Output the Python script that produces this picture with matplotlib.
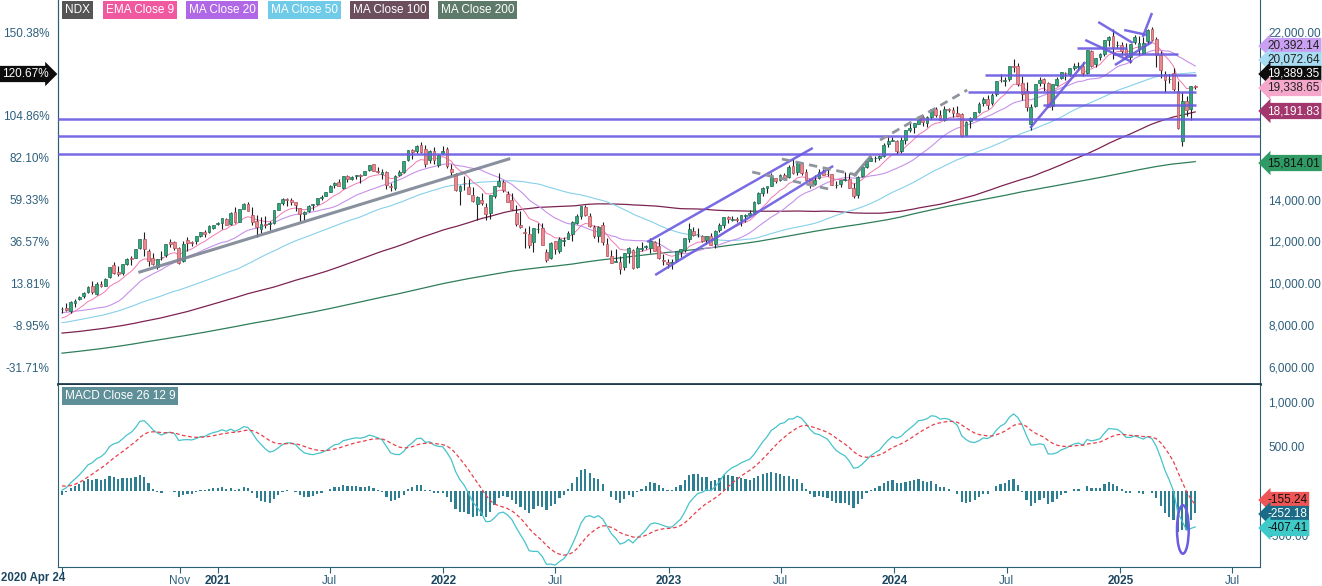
import numpy as np
import pandas as pd
import matplotlib
matplotlib.use('Agg')
import matplotlib.pyplot as plt
import matplotlib.dates as mdates
from matplotlib.patches import Ellipse

plt.rcParams['font.family'] = ['Liberation Sans', 'DejaVu Sans']

# weekly closes before the visible window (needed for MA200 / MACD warm-up), Jun 2016 .. Apr 17 2020
warmup_close = [
    4310, 4417, 4520, 4590, 4620, 4730, 4780, 4800, 4810, 4780, 4810, 4710, 4800, 4880, 4875, 4840,
    4820, 4850, 4800, 4660, 4750, 4800, 4840, 4720, 4800, 4860, 4920, 4864,
    # 2017
    4990, 5010, 5020, 5120, 5140, 5210, 5280, 5300, 5340, 5370, 5390, 5370, 5440, 5400, 5350, 5420,
    5580, 5630, 5690, 5650, 5790, 5850, 5700, 5690, 5770, 5650, 5690, 5850, 5920, 5880, 5920, 5810,
    5780, 5820, 5960, 5930, 6000, 5980, 5980, 6050, 6080, 6070, 6200, 6260, 6300, 6320, 6390, 6300,
    6350, 6440, 6450, 6400,
    # 2018
    6650, 6750, 6830, 7020, 6760, 6440, 6780, 6850, 6910, 7130, 7060, 6590, 6580, 6490, 6650, 6670,
    6630, 6760, 6930, 6860, 6930, 7050, 7120, 7210, 7140, 7040, 7130, 7330, 7330, 7250, 7370, 7380,
    7340, 7460, 7640, 7450, 7530, 7480, 7630, 7360, 7160, 7040, 6740, 6950, 6930, 6790, 6480, 6950,
    6630, 6580, 6000, 6190,
    # 2019
    6400, 6580, 6760, 6770, 6860, 6830, 7010, 7090, 7150, 6940, 7310, 7320, 7380, 7530, 7650, 7670,
    7850, 7850, 7610, 7520, 7320, 7130, 7450, 7520, 7700, 7670, 7820, 7940, 7830, 7990, 7620, 7620,
    7570, 7390, 7660, 7780, 7830, 7760, 7680, 7760, 7810, 7830, 7980, 8160, 8230, 8320, 8290, 8400,
    8400, 8500, 8640, 8770,
    # 2020
    8790, 8970, 9170, 9110, 8990, 9400, 9620, 9450, 8460, 8530, 7870, 6990, 7500, 7530, 8150, 8830,
]

# NDX weekly candles, 2020 Apr 24 .. 2025 Apr 28 (last one partial)
opens = [
    8770, 8830, 8660, 9080, 9250, 9400, 9560, 9860, 9500, 9970, 9880, 10290, 10880, 10560, 10500, 10920,
    11180, 11230, 11700, 12120, 11550, 11230, 10800, 11250, 11330, 11970, 11950, 11680, 11050, 12090,
    11970, 12030, 12270, 12470, 12450, 12660, 12840,
    12900, 13050, 12840, 13400, 12950, 13550, 13800, 13240, 12960, 12610, 12850, 12850, 12870, 13510,
    13840, 14020, 13990, 13880, 13580, 13300, 13440, 13720, 13780, 14070, 14160, 14380, 14680, 14830,
    14560, 15120, 15000, 15100, 15160, 15170, 15390, 15680, 15380, 15200, 15320, 14660, 14560, 15150,
    15330, 15870, 16360, 16300, 16600, 16400, 15870, 16300, 15670, 16200,
    16400, 15480, 15240, 14400, 14800, 14620, 14230, 13800, 14000, 13650, 13360, 14160, 14660, 14840,
    14260, 13990, 13360, 12800, 12450, 12370, 11950, 12590, 12640, 11470, 11200, 12010, 11540, 12030,
    12110, 12330, 12900, 13190, 13650, 13230, 12670, 12260, 12770, 11870, 11300, 11020, 11000, 10800,
    11440, 11600, 10760, 11650, 11730, 11700, 11950, 11760, 11130, 11000,
    10990, 11090, 11490, 11600, 12120, 12500, 12350, 12250, 12050, 12270, 11880, 12530, 12770, 13180,
    13000, 13090, 13000, 13220, 13270, 13350, 13850, 14290, 14530, 14660, 15020, 14930, 15150, 15080,
    15600, 15300, 15760, 15300, 14970, 14730, 15010, 15350, 15220, 15200, 14690, 14750, 14940, 15000,
    14550, 14210, 15100, 15530, 15850, 15980, 15970, 16080, 16630, 16780,
    16800, 16310, 16820, 17330, 17450, 17630, 17960, 17660, 17960, 18300, 18050, 17790, 18330, 18270,
    18120, 18080, 17100, 17760, 17900, 18190, 18590, 18820, 18590, 19040, 19710, 19660, 19740, 20400,
    20390, 19560, 19160, 17600, 18450, 19570, 19760, 19560, 18470, 19450, 19780, 20050, 20000, 20280,
    20350, 20400, 20050, 21100, 20480, 20800, 20930, 21600, 21820, 21360,
    21360, 21200, 20800, 21500, 21200, 21000, 21560, 22150, 21650, 20920, 20000, 19750, 20050, 19200,
    16800, 18700, 18300, 19430,
]
highs = [
    8850, 9040, 9140, 9270, 9390, 9560, 9850, 10090, 10060, 10120, 10260, 10780, 11000, 10820, 10930,
    11230, 11280, 11640, 12110, 12440, 11650, 11440, 11180, 11540, 11890, 12130, 12000, 11730, 12000,
    12230, 12030, 12270, 12470, 12560, 12760, 12800, 12910,
    13120, 13130, 13400, 13620, 13530, 13810, 13870, 13620, 13270, 13170, 13220, 12990, 13490, 13850,
    14050, 14070, 14060, 13900, 13600, 13460, 13730, 13800, 14080, 14200, 14370, 14670, 14840, 14970,
    15130, 15160, 15140, 15180, 15240, 15380, 15660, 15700, 15560, 15440, 15340, 14770, 15160, 15420,
    15860, 16370, 16400, 16600, 16760, 16600, 16350, 16490, 16180, 16570,
    16530, 15700, 15270, 14710, 15130, 14980, 14590, 14150, 14330, 13840, 14230, 14650, 15260, 14950,
    14390, 14300, 13750, 13440, 12630, 12740, 12650, 12900, 12890, 11640, 11950, 12040, 12190, 12200,
    12520, 12990, 13310, 13700, 13720, 13370, 12770, 12720, 12950, 12170, 11600, 11640, 11280, 11460,
    11720, 11650, 11760, 11970, 11820, 12140, 12030, 12160, 11380, 11140,
    11150, 11560, 11650, 12170, 12880, 12700, 12640, 12290, 12280, 12420, 12560, 12860, 13180, 13210,
    13200, 13150, 13270, 13310, 13480, 13930, 14350, 14580, 14620, 15280, 15050, 15200, 15260, 15640,
    15930, 15780, 15810, 15440, 15000, 15160, 15460, 15460, 15520, 15220, 14900, 14940, 15300, 15290,
    14770, 15140, 15540, 15850, 16030, 16070, 16110, 16720, 16970, 16970,
    16830, 16970, 17340, 17670, 17670, 17970, 18040, 18000, 18310, 18420, 18280, 18460, 18380, 18420,
    18470, 18140, 17760, 17920, 18180, 18670, 18910, 19000, 19090, 19680, 19980, 19840, 20400, 20690,
    20500, 19900, 19600, 18570, 19510, 19830, 19800, 19600, 19520, 19870, 20100, 20100, 20300, 20500,
    20560, 20590, 21150, 21160, 20780, 21000, 21630, 21790, 22130, 21550,
    21500, 21470, 21440, 21860, 21820, 21760, 22120, 22220, 21750, 21070, 20130, 20000, 20300, 19680,
    19150, 18960, 19440, 19470,
]
lows = [
    8560, 8700, 8600, 8890, 9180, 9300, 9520, 9500, 9440, 9840, 9850, 10250, 10430, 10330, 10380,
    10880, 10880, 11210, 11650, 11320, 10820, 10850, 10680, 11100, 11270, 11750, 11570, 10920, 11000,
    11540, 11780, 11880, 12230, 12230, 12400, 12570, 12800,
    12570, 12780, 12800, 12860, 12930, 13530, 13450, 12760, 12210, 12380, 12630, 12540, 12840, 13480,
    13760, 13690, 13740, 13460, 12960, 13030, 13390, 13480, 13740, 13980, 14150, 14350, 14560, 14640,
    14480, 14840, 14950, 14960, 14780, 15160, 15370, 15360, 15290, 14960, 14520, 14400, 14460, 15130,
    15250, 15820, 15940, 16210, 16200, 15560, 15730, 15700, 15540, 16180,
    15520, 15130, 14400, 13720, 14470, 14250, 13860, 13020, 13760, 13020, 13050, 14060, 14600, 14380,
    13870, 13500, 12720, 12620, 11670, 11690, 11480, 12420, 11830, 11040, 11140, 11400, 11430, 11760,
    12100, 12040, 12850, 13090, 13230, 12690, 12180, 11960, 11830, 11280, 10970, 11000, 10440, 10640,
    10990, 10700, 10730, 11540, 11660, 11460, 11520, 11140, 10890, 10720,
    10670, 11040, 11250, 11500, 11950, 12280, 12220, 11960, 11880, 11830, 11700, 12430, 12620, 12900,
    12960, 12940, 12720, 12920, 13200, 13300, 13800, 14170, 14330, 14650, 14800, 14880, 14930, 15010,
    15210, 15150, 15180, 14910, 14560, 14690, 14990, 15160, 15140, 14700, 14560, 14580, 14900, 14550,
    14060, 14060, 15090, 15510, 15820, 15800, 15870, 16030, 16520, 16780,
    16170, 16240, 16650, 17240, 17160, 17590, 17500, 17460, 17850, 17920, 17800, 17740, 18190, 17920,
    17980, 16970, 17030, 17410, 17890, 18110, 18480, 18340, 18520, 18940, 19590, 19430, 19680, 20070,
    19440, 18770, 18240, 17300, 18400, 19400, 19180, 18410, 18290, 19430, 19740, 19730, 19900, 20200,
    20200, 19900, 20000, 20350, 20350, 20650, 20870, 21350, 20700, 21230,
    20880, 20750, 20540, 21420, 20890, 20950, 21430, 21560, 20350, 19800, 19150, 19560, 19200, 17390,
    16540, 18000, 17800, 19260,
]
closes = [
    8786.6, 8718, 9121, 9152, 9325, 9555, 9824, 9588, 9946, 9850, 10207, 10768, 10508, 10461, 10906,
    11139, 11178, 11636, 12110, 11622, 11080, 10939, 11149, 11274, 11880, 11891, 11667, 10975, 11895,
    11937, 11946, 12258, 12458, 12377, 12756, 12804, 12888,
    13105, 12803, 13366, 12925, 13525, 13803, 13475, 12909, 12668, 12819, 12780, 12884, 13481, 13845,
    14041, 13969, 13861, 13720, 13317, 13406, 13687, 13773, 14069, 14141, 14360, 14661, 14780, 14653,
    15116, 14959, 15096, 15157, 15113, 15375, 15653, 15363, 15328, 15317, 14689, 14579, 15146, 15335,
    15850, 16345, 16278, 16573, 16280, 15712, 16331, 15889, 16131, 16320,
    15592, 15312, 14439, 14663, 14770, 14284, 13918, 14143, 13838, 13302, 14206, 14628, 14862, 14436,
    13898, 13527, 12854, 12677, 12387, 11835, 12647, 12605, 11833, 11129, 11939, 11636, 12126, 12040,
    12396, 12947, 13231, 13700, 13271, 12712, 12260, 12710, 11978, 11311, 10971, 11087, 10693, 11457,
    11669, 10745, 11698, 11677, 11786, 12032, 11552, 11197, 11049, 10940,
    11040, 11541, 11623, 12167, 12573, 12305, 12363, 11999, 12260, 11831, 12520, 12767, 13181, 13063,
    13080, 13037, 13246, 13263, 13340, 13888, 14298, 14546, 14656, 15084, 14891, 15179, 15035, 15565,
    15252, 15750, 15275, 14934, 14695, 14941, 15331, 15188, 15202, 14701, 14715, 14920, 14996, 14566,
    14180, 15099, 15530, 15840, 15982, 15997, 16085, 16623, 16777, 16826,
    16305, 16832, 17314, 17421, 17642, 17963, 17685, 17937, 18302, 18019, 17808, 18339, 18254, 18108,
    18003, 17037, 17718, 17890, 18162, 18546, 18809, 18537, 19000, 19660, 19701, 19683, 20392, 20332,
    19523, 19024, 18440, 18414, 19508, 19720, 19575, 18422, 19499, 19736, 20072, 20035, 20271, 20358,
    20352, 20033, 21118, 20394, 20744, 20930, 21622, 21780, 21289, 21393,
    21100, 20847, 21441, 21773, 21478, 21491, 22115, 21614, 20884, 20201, 19704, 19754, 19281, 17398,
    18690, 18258, 19433, 19389.35,
]

legend_names = ['NDX', 'EMA Close 9', 'MA Close 20', 'MA Close 50', 'MA Close 100', 'MA Close 200']
ind_tags = ['20,392.14', '20,072.64', '19,338.65', '18,191.83', '15,814.01']
macd_tags = ['-155.24', '-252.18', '-407.41']
# price ticks; the 20k/18k/16k labels sit behind the value tags on the right
price_ticks = [6000, 8000, 10000, 12000, 14000, 16000, 18000, 20000, 22000]
right_hidden = [16000, 18000, 20000]
left_hidden = [20000]
macd_ticks = [-500, 500, 1000]

# user drawings: (date, price) pairs
blue_lines = [
    (('2022-11-27', 11971), ('2023-08-22', 16460)),
    (('2022-12-10', 10395), ('2023-09-24', 15601)),
    (('2024-08-08', 17415), ('2024-11-05', 20567)),
    (('2024-11-26', 22478), ('2025-01-21', 21475)),
    (('2024-11-05', 21618), ('2025-01-20', 20567)),
    (('2025-01-07', 22096), ('2025-02-13', 21857)),
    (('2025-02-06', 21761), ('2025-02-21', 22907)),
    (('2024-12-23', 20424), ('2025-02-21', 21522)),
    (('2024-05-27', 19947), ('2025-05-04', 19947)),
    (('2024-04-29', 19135), ('2025-05-03', 19135)),
    (('2024-08-29', 18490), ('2025-05-03', 18490)),
    (('2024-10-23', 21250), ('2025-01-12', 21250)),
    (('2024-12-20', 20949), ('2025-04-04', 20949)),
]
blue_levels = [17845, 17010, 16174]
gray_lines = [
    (('2020-08-28', 10539), ('2022-04-17', 15935)),
    (('2023-10-29', 15171), ('2023-11-23', 16031)),
]
gray_dashed = [
    (('2023-07-03', 15935), ('2023-11-02', 15171)),
    (('2023-05-16', 15314), ('2023-09-24', 14455)),
    (('2023-12-09', 16842), ('2024-04-28', 19230)),
]

# ---------------------------------------------------------------
n_warm = len(warmup_close)
dates = pd.date_range('2020-04-24', periods=len(closes), freq='W-FRI')
x = mdates.date2num(dates)
o = np.array(opens, float); h = np.array(highs, float)
l = np.array(lows, float); c = np.array(closes, float)

allc = pd.Series(warmup_close + closes, dtype=float)
ema9 = allc.ewm(span=9, adjust=False).mean().values[n_warm:]
ma20 = allc.rolling(20).mean().values[n_warm:]
ma50 = allc.rolling(50).mean().values[n_warm:]
ma100 = allc.rolling(100).mean().values[n_warm:]
ma200 = allc.rolling(200, min_periods=150).mean().values[n_warm:]
macd_all = allc.ewm(span=12, adjust=False).mean() - allc.ewm(span=26, adjust=False).mean()
sig_all = macd_all.ewm(span=9, adjust=False).mean()
macd = macd_all.values[n_warm:]
sig = sig_all.values[n_warm:]
hist = macd - sig

W, H = 1322, 586
fig = plt.figure(figsize=(W / 100, H / 100), dpi=100)
ax = fig.add_axes([58 / W, 1 - 384 / H, (1260 - 58) / W, 384 / H])
axm = fig.add_axes([58 / W, 1 - 567 / H, (1260 - 58) / W, (567 - 385) / H])

t0 = mdates.date2num(pd.Timestamp('2020-04-24'))
pxday = 0.6179
xlim = (t0 - 4 / pxday, t0 + 1198 / pxday)

spine_c = '#2b5d73'
tick_c = '#2d5f7c'

# moving averages
ax.plot(x, ma200, color='#2f7d5a', lw=0.9, zorder=2)
ax.plot(x, ma100, color='#7d2352', lw=0.9, zorder=2)
ax.plot(x, ma50, color='#86d0ea', lw=0.8, zorder=2)
ax.plot(x, ma20, color='#c691ea', lw=0.8, zorder=2)
ax.plot(x, ema9, color='#f27ab2', lw=0.7, zorder=2)

# candles
up = c >= o
ax.vlines(x, l, h, color='#1e1e1e', lw=0.8, zorder=3)
body_lo = np.minimum(o, c)
body_h = np.maximum(np.abs(c - o), 25)
ax.bar(x[up], body_h[up], bottom=body_lo[up], width=4.6, color='#34a77d',
       edgecolor='#1f6b52', lw=0.5, zorder=4)
ax.bar(x[~up], body_h[~up], bottom=body_lo[~up], width=4.6, color='#ea8890',
       edgecolor='#b5505a', lw=0.5, zorder=4)

# drawings
def d2n(s):
    return mdates.date2num(pd.Timestamp(s))

for lev in blue_levels:
    ax.axhline(lev, color='#6a5be0', lw=1.8, alpha=0.9, zorder=5)
for (d1, p1), (d2, p2) in blue_lines:
    ax.plot([d2n(d1), d2n(d2)], [p1, p2], color='#6a5be0', lw=1.8, alpha=0.9, zorder=5,
            solid_capstyle='butt')
for (d1, p1), (d2, p2) in gray_lines:
    ax.plot([d2n(d1), d2n(d2)], [p1, p2], color='#7c8494', lw=2.2, alpha=0.9, zorder=5)
for (d1, p1), (d2, p2) in gray_dashed:
    ax.plot([d2n(d1), d2n(d2)], [p1, p2], color='#8f949e', lw=2.0, ls=(0, (3, 2)), zorder=5)

ax.set_xlim(xlim)
ax.set_ylim(22000 - 352 / 20.94 * 1000, 22000 + 32 / 20.94 * 1000)
ax.set_xticks([])
ax.yaxis.tick_right()
ax.set_yticks(price_ticks)
ax.set_yticklabels(['' if v in right_hidden else f'{v:,.2f}' for v in price_ticks])
ax.tick_params(axis='y', length=0, pad=6, labelsize=8.5, labelcolor=tick_c)
for s in ['left', 'right']:
    ax.spines[s].set_color(spine_c)
ax.spines['top'].set_visible(False)
ax.spines['bottom'].set_color('#1d3b4b')
ax.spines['bottom'].set_linewidth(2)

base = closes[0]
sec = ax.secondary_yaxis('left', functions=(lambda p: (p / base - 1) * 100,
                                            lambda q: base * (1 + q / 100)))
pct_ticks = [(p / base - 1) * 100 for p in price_ticks]
sec.set_yticks(pct_ticks)
sec.set_yticklabels(['' if p in left_hidden else f'{v:.2f}%'
                     for p, v in zip(price_ticks, pct_ticks)])
sec.tick_params(length=0, pad=6, labelsize=8.5, labelcolor=tick_c)
sec.spines['left'].set_color(spine_c)

# MACD panel
axm.bar(x, hist, width=3.6, color='#2e7f92', zorder=2)
axm.plot(x, macd, color='#47c3cb', lw=0.9, zorder=3)
axm.plot(x, sig, color='#e8404a', lw=0.9, ls=(0, (3, 2)), zorder=3)
axm.add_patch(Ellipse((d2n('2025-04-12'), -432), width=19, height=545, fill=False,
                      edgecolor='#6a5be0', lw=1.8, zorder=5))
axm.set_xlim(xlim)
axm.set_ylim(-76 / 89 * 1000, 106 / 89 * 1000)
axm.yaxis.tick_right()
axm.set_yticks(macd_ticks)
axm.set_yticklabels(['-500.00', '500.00', '1,000.00'])
axm.tick_params(axis='y', length=0, pad=6, labelsize=8.5, labelcolor=tick_c)
for s in ['left', 'right', 'bottom']:
    axm.spines[s].set_color(spine_c)
axm.spines['top'].set_visible(False)

xt = ['2020-04-24', '2020-11-01', '2021-01-01', '2021-07-01', '2022-01-01', '2022-07-01',
      '2023-01-01', '2023-07-01', '2024-01-01', '2024-07-01', '2025-01-01', '2025-07-01']
xl = ['2020 Apr 24', 'Nov', '2021', 'Jul', '2022', 'Jul', '2023', 'Jul', '2024', 'Jul', '2025', 'Jul']
axm.set_xticks([d2n(s) for s in xt])
axm.set_xticklabels([''] + xl[1:])
axm.tick_params(axis='x', length=4, color=spine_c, labelsize=8.5, labelcolor=tick_c, pad=2)
for lab, txt in zip(axm.get_xticklabels(), xl):
    if txt[:2] == '20':
        lab.set_fontweight('bold')
        lab.set_color('#1c4660')
# first label is pushed against the left edge, as in the reference
fig.text(1 / W, 1 - 572 / H, xl[0], ha='left', va='top', fontsize=8.3, fontweight='bold',
         color='#1c4660')

# legend chips
chip_x = [62, 103, 186, 268, 350, 438]
chip_bg = ['#555555', '#f0599f', '#b068e6', '#6fcbe8', '#6b4f5c', '#5d7a6a']
for name, px, bg in zip(legend_names, chip_x, chip_bg):
    fig.text((px + 3) / W, 1 - 10 / H, name, ha='left', va='center', fontsize=8.5, color='white',
             bbox=dict(boxstyle='square,pad=0.22', fc=bg, ec='none'))
fig.text(65 / W, 1 - 396 / H, 'MACD Close 26 12 9', ha='left', va='center', fontsize=8.5,
         color='white', bbox=dict(boxstyle='square,pad=0.22', fc='#5f8f97', ec='none'))

# value tags
def rtag(ypx, txt, bg, fg):
    fig.text(1267 / W, 1 - ypx / H, txt, ha='left', va='center', fontsize=8.5, color=fg,
             bbox=dict(boxstyle='larrow,pad=0.18', fc=bg, ec='none'), zorder=6)

rtag(46, ind_tags[0], '#c9a0f2', '#222222')
rtag(60, ind_tags[1], '#a8dcf2', '#222222')
rtag(74, f'{closes[-1]:,.2f}', '#0d0d0d', 'white')
rtag(88, ind_tags[2], '#f6a8cc', '#222222')
rtag(111, ind_tags[3], '#a3366d', 'white')
rtag(163, ind_tags[4], '#2f9a63', '#111111')
rtag(500, macd_tags[0], '#f05555', '#111111')
rtag(514, macd_tags[1], '#1b6b87', 'white')
rtag(528, macd_tags[2], '#3fc9c9', '#111111')

fig.text(2 / W, 1 - 74 / H, f'{(closes[-1] / closes[0] - 1) * 100:.2f}%', ha='left', va='center',
         fontsize=8.5, color='white', bbox=dict(boxstyle='rarrow,pad=0.18', fc='#0d0d0d', ec='none'),
         zorder=6)

fig.savefig('out.png', dpi=100)
